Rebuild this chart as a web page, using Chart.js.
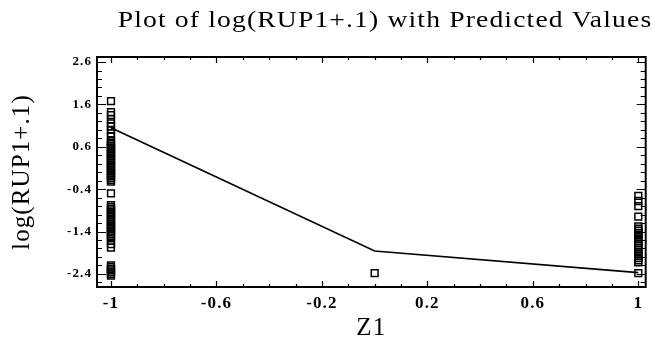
<!DOCTYPE html>
<html>
<head>
<meta charset="utf-8">
<script src="https://cdn.jsdelivr.net/npm/chart.js@4/dist/chart.umd.min.js"></script>
<style>
  html, body { margin: 0; padding: 0; background: #fff; }
  #wrap { width: 652px; height: 347px; }
</style>
</head>
<body>
<div id="wrap"><canvas id="c" width="652" height="347"></canvas></div>
<script>
// Observed log(RUP1+.1) values at each level of Z1
const obsAtMinus1 = [1.68, 1.42, 1.35, 1.25, 1.15, 1.08, 1.0, 0.92, 0.85,
  0.74, 0.7, 0.66, 0.62, 0.58, 0.54, 0.5, 0.46, 0.42, 0.38, 0.34, 0.3, 0.26, 0.22,
  0.18, 0.14, 0.1, 0.06, 0.02, -0.02, -0.06, -0.1, -0.14, -0.18, -0.22,
  -0.5,
  -0.78, -0.82, -0.86, -0.9, -0.94, -0.98, -1.02, -1.06, -1.1, -1.14, -1.18, -1.22,
  -1.26, -1.3, -1.34, -1.38, -1.42, -1.46, -1.5, -1.56, -1.62, -1.7, -1.78,
  -2.2, -2.24, -2.28, -2.32, -2.36, -2.4, -2.44];
const obsAtZero = [-2.38];
const obsAtPlus1 = [-0.56, -0.68, -0.8, -1.05, -1.28, -1.33, -1.38, -1.43, -1.48,
  -1.53, -1.58, -1.63, -1.68, -1.73, -1.78, -1.83, -1.88, -1.93, -1.98, -2.03,
  -2.08, -2.13, -2.38];

// Predicted values from the fitted model
const predZ = [-1, 0, 1];
const predValues = [1.05, -1.86, -2.37];

// Axis tick labels
const xTickValues = [-1, -0.6, -0.2, 0.2, 0.6, 1];
const yTickValues = [-2.4, -1.4, -0.4, 0.6, 1.6, 2.6];

const titleText = 'Plot of log(RUP1+.1) with Predicted Values';
const xTitle = 'Z1';
const yTitle = 'log(RUP1+.1)';

const obsPoints = []
  .concat(obsAtMinus1.map(v => ({x: -1, y: v})))
  .concat(obsAtZero.map(v => ({x: 0, y: v})))
  .concat(obsAtPlus1.map(v => ({x: 1, y: v})));
const predPoints = predZ.map((z, i) => ({x: z, y: predValues[i]}));

const SERIF = '"Liberation Serif", "Times New Roman", serif';

// Slightly wider letter spacing for the axis texts, reset before the data is drawn
const spacingPlugin = {
  id: 'spacing',
  beforeDraw(chart) { chart.ctx.letterSpacing = '1.1px'; },
  beforeDatasetsDraw(chart) { chart.ctx.letterSpacing = '0px'; }
};

// Frame with inward major/minor tick marks, and the title
const framePlugin = {
  id: 'frame',
  afterDraw(chart) {
    const ctx = chart.ctx;
    const a = chart.chartArea;
    const xs = chart.scales.x, ys = chart.scales.y;
    ctx.save();
    ctx.strokeStyle = '#000';
    ctx.lineWidth = 2;
    ctx.strokeRect(a.left, a.top, a.right - a.left, a.bottom - a.top);
    ctx.lineWidth = 1.2;
    ctx.beginPath();
    // y ticks every 0.2, major on labelled values
    for (let k = -14; k <= 13; k++) {
      const v = k * 0.2 + 0.2;
      if (v < ys.min || v > ys.max) continue;
      const major = yTickValues.some(t => Math.abs(t - v) < 1e-6);
      const py = Math.round(ys.getPixelForValue(v)) + 0.5;
      const len = major ? 9 : 5;
      ctx.moveTo(a.left, py); ctx.lineTo(a.left + len, py);
      ctx.moveTo(a.right, py); ctx.lineTo(a.right - len, py);
    }
    // x ticks every 0.1, major on labelled values
    for (let k = -10; k <= 10; k++) {
      const v = k * 0.1;
      if (v < xs.min || v > xs.max) continue;
      const major = xTickValues.some(t => Math.abs(t - v) < 1e-6);
      const px = Math.round(xs.getPixelForValue(v)) + 0.5;
      const len = major ? 6 : 3;
      ctx.moveTo(px, a.bottom); ctx.lineTo(px, a.bottom - len);
      ctx.moveTo(px, a.top); ctx.lineTo(px, a.top + len);
    }
    ctx.stroke();
    ctx.fillStyle = '#000';
    ctx.font = '24px ' + SERIF;
    ctx.letterSpacing = '1px';
    ctx.textAlign = 'center';
    ctx.textBaseline = 'middle';
    ctx.translate(385, 21);
    ctx.scale(1.15, 1);
    ctx.fillText(titleText, 0, 0);
    ctx.restore();
  }
};

new Chart(document.getElementById('c'), {
  type: 'scatter',
  data: {
    datasets: [
      {
        type: 'line',
        data: predPoints,
        borderColor: '#000',
        borderWidth: 1.7,
        pointRadius: 0,
        tension: 0,
        fill: false
      },
      {
        data: obsPoints,
        pointStyle: 'rect',
        pointRadius: 4.8,
        borderColor: '#000',
        borderWidth: 1.5,
        backgroundColor: 'rgba(255,255,255,0)'
      }
    ]
  },
  options: {
    responsive: false,
    animation: false,
    devicePixelRatio: 1,
    layout: { padding: { top: 57, right: 3, left: 0, bottom: 0 } },
    plugins: { legend: { display: false }, tooltip: { enabled: false }, title: { display: false } },
    scales: {
      x: {
        type: 'linear',
        min: -1.053,
        max: 1.028,
        afterBuildTicks: s => { s.ticks = xTickValues.map(v => ({value: v})); },
        afterFit: s => { s.height = 60; },
        grid: { display: false, drawTicks: false },
        border: { display: false },
        ticks: {
          color: '#000',
          padding: 6,
          maxRotation: 0,
          autoSkip: false,
          font: { family: SERIF, size: 17, weight: 'bold' },
          callback: v => String(v)
        },
        title: {
          display: true,
          text: xTitle,
          color: '#000',
          font: { family: SERIF, size: 25 },
          padding: { top: 0, bottom: 4 }
        }
      },
      y: {
        type: 'linear',
        min: -2.71,
        max: 2.72,
        afterBuildTicks: s => { s.ticks = yTickValues.map(v => ({value: v})); },
        afterFit: s => { s.width = 97; },
        grid: { display: false, drawTicks: false },
        border: { display: false },
        ticks: {
          color: '#000',
          padding: 5,
          autoSkip: false,
          font: { family: SERIF, size: 13, weight: 'bold' },
          callback: v => String(v)
        },
        title: {
          display: true,
          text: yTitle,
          color: '#000',
          font: { family: SERIF, size: 25 },
          padding: { top: 7, bottom: 0 }
        }
      }
    }
  },
  plugins: [spacingPlugin, framePlugin]
});
</script>
</body>
</html>
